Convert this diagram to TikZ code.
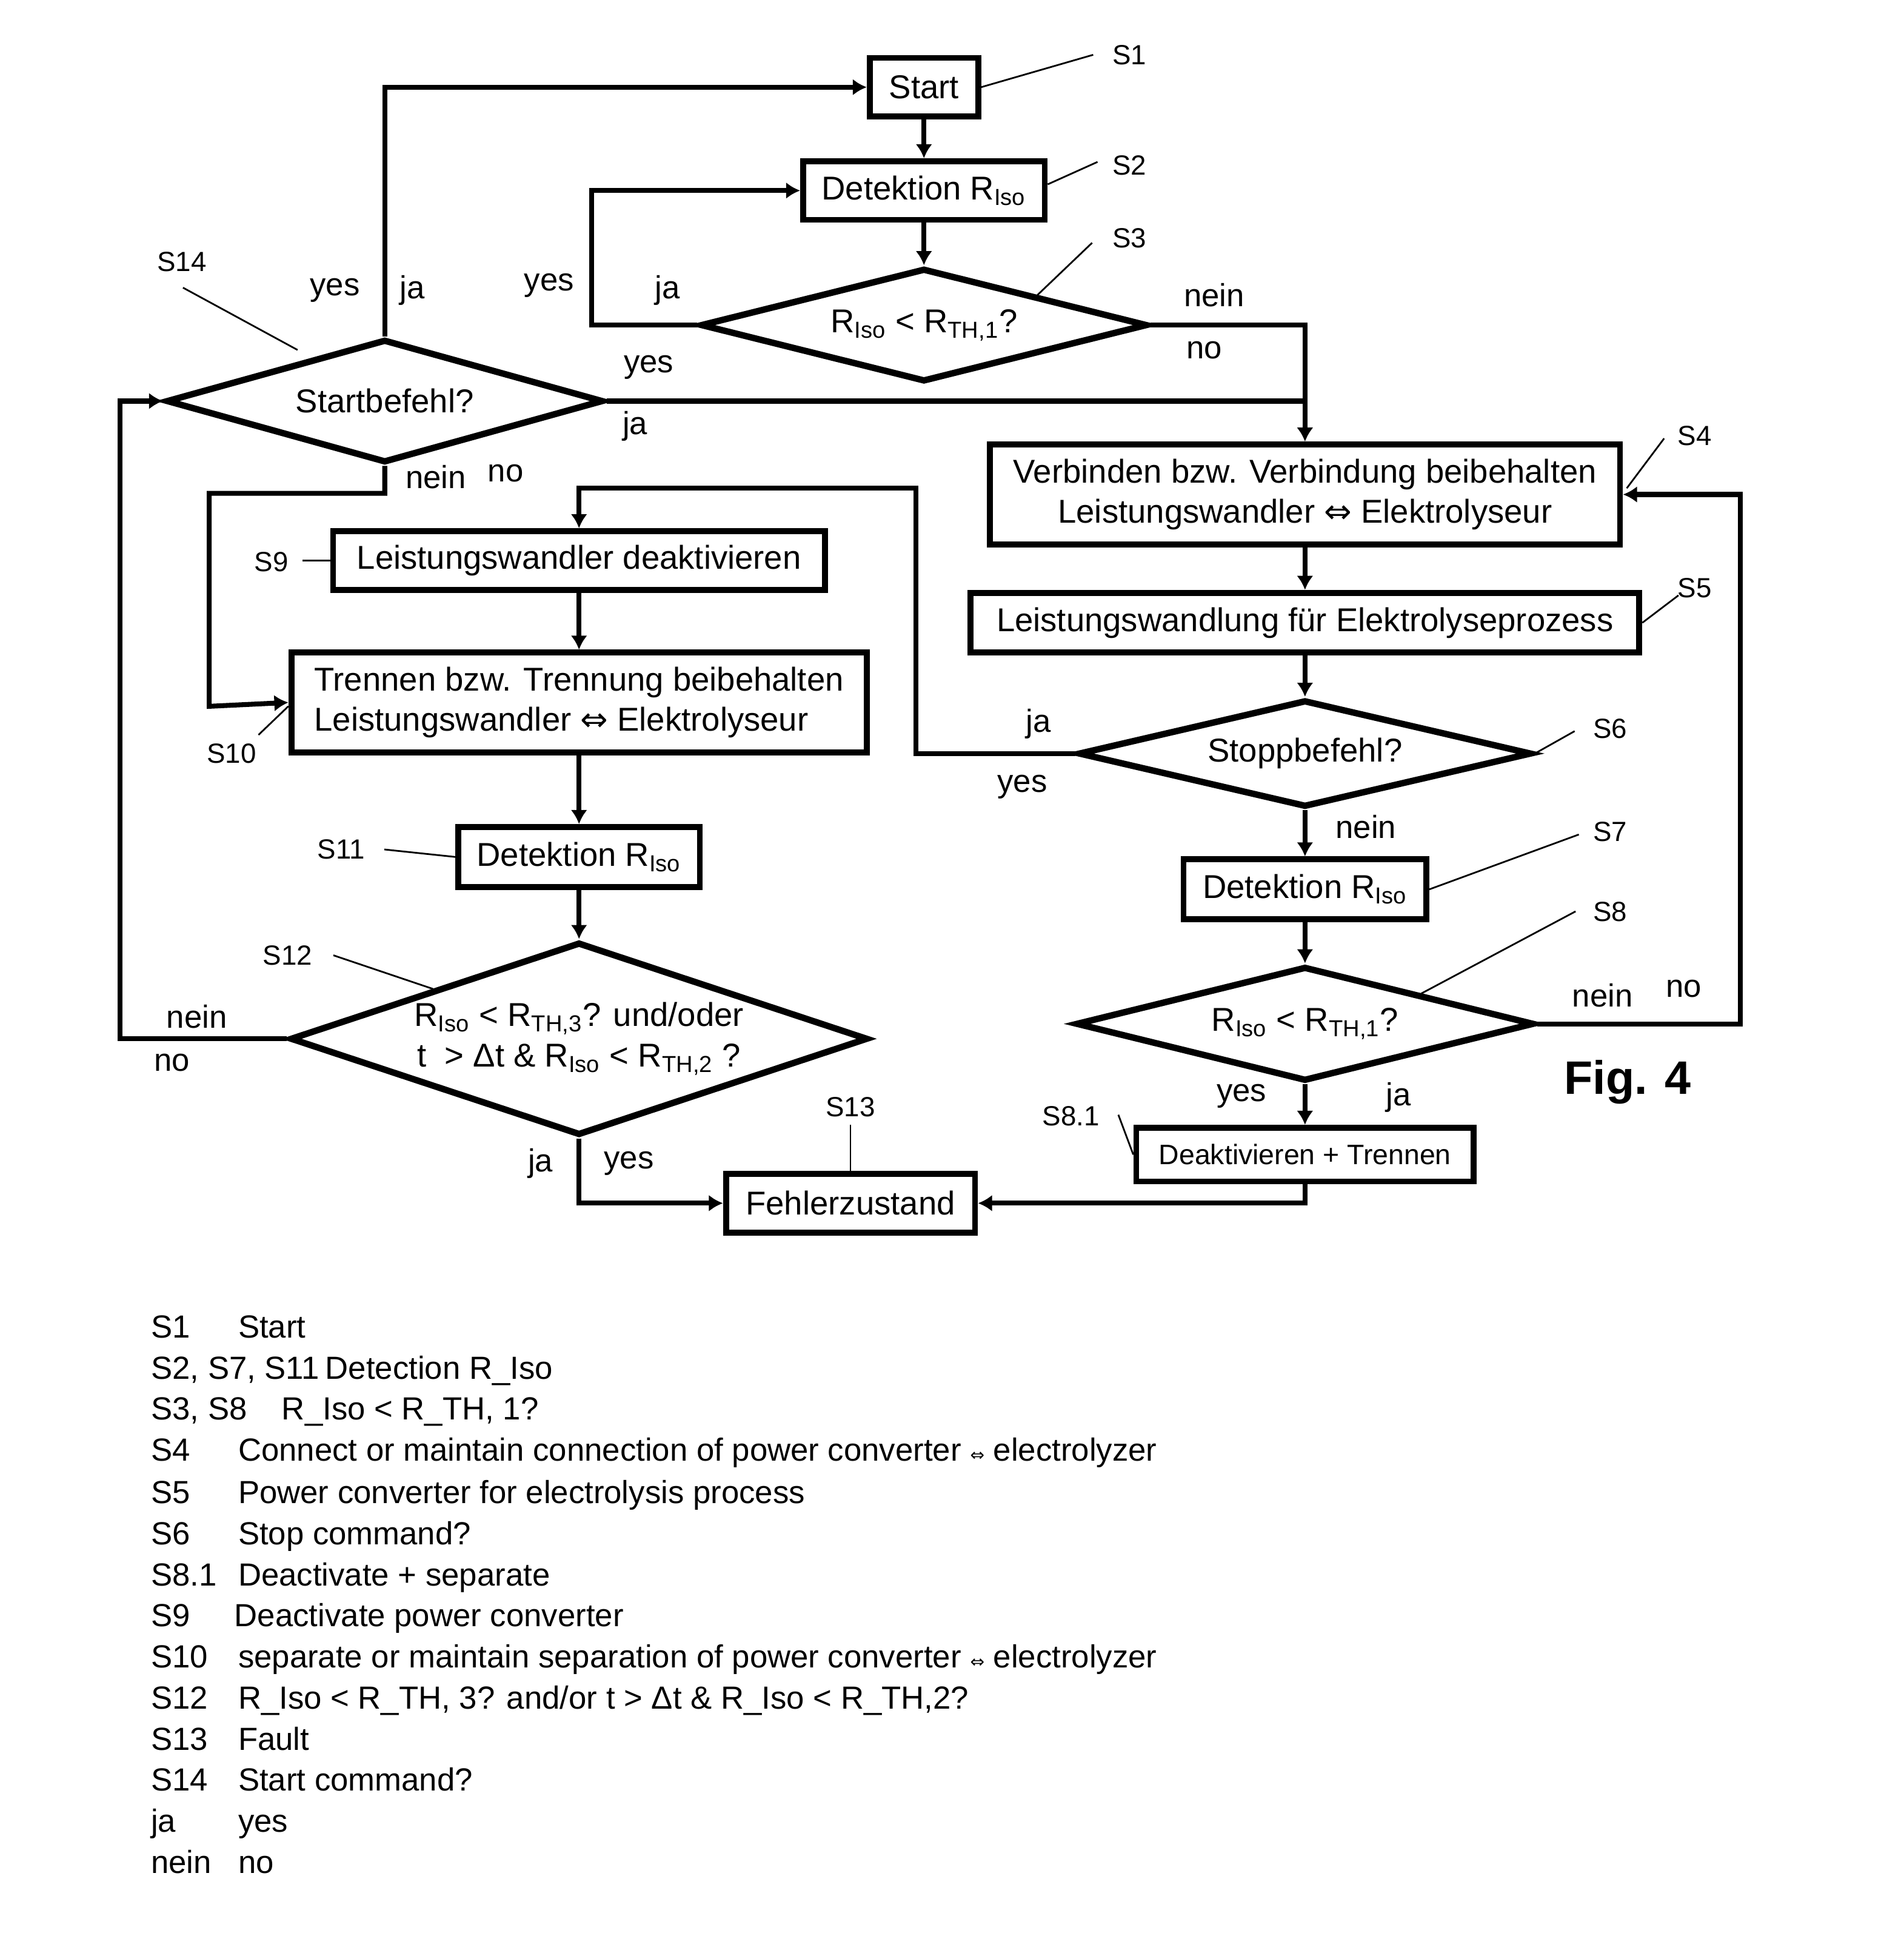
\documentclass[tikz,border=0pt]{standalone}
\usepackage{fontspec}
\setmainfont{Liberation Sans}
\newfontfamily\symfont{DejaVu Sans}
\usetikzlibrary{arrows.meta, shapes.geometric, positioning}
\newlength\px
\setlength\px{0.02054cm}
\newcommand\Riso{R\textsubscript{Iso}}
\newcommand\Rth[1]{R\textsubscript{TH,#1}}
\newcommand\dirarrow{{\symfont ⇔}}
\newcommand\smallarrow{{\symfont\fontsize{8}{8}\selectfont ⇔}}
\tikzset{
  box/.style 2 args={draw, rectangle, line width=2.8pt, inner sep=0pt,
    minimum width=#1\px, minimum height=#2\px,
    font=\fontsize{15.5}{18.6}\selectfont},
  decision/.style 2 args={draw, diamond, aspect=3, line width=3pt, inner sep=0pt,
    minimum width=#1\px, minimum height=#2\px,
    font=\fontsize{15.5}{19}\selectfont},
  link/.style={line width=2.3pt},
  flow/.style={link, -{Latex[length=6.6pt,width=7.8pt]}},
  lead/.style={line width=0.8pt},
  answer/.style={inner sep=0pt, font=\fontsize{15}{18}\selectfont},
  steplabel/.style={inner sep=0pt, font=\fontsize{13}{15}\selectfont},
  legend/.style={anchor=base west, inner sep=0pt, font=\fontsize{15}{18}\selectfont},
}

\begin{document}
\begin{tikzpicture}[x=\px, y=-\px]
    \useasboundingbox (0,0) rectangle (1529,1568);

    % upper part
    \node[box={87}{47}] (start) at (742,70) {Start};
    \node[box={194}{47}] (det1) at (742,153) {Detektion \Riso};
    \node[decision={359}{91}] (s3) at (742,261) {\Riso\ < \Rth{1}?};
    \node[decision={351}{99}] (s14) at (309,322) {Startbefehl?};

    % right column
    \node[box={506}{80}, align=center] (s4) at (1048,397)
        {Verbinden bzw. Verbindung beibehalten\\Leistungswandler \dirarrow\ Elektrolyseur};
    \node[box={537}{48}] (s5) at (1048,500) {Leistungswandlung für Elektrolyseprozess};
    \node[decision={364}{86}] (s6) at (1048,605) {Stoppbefehl?};
    \node[box={195}{48}] (s7) at (1048,714) {Detektion \Riso};
    \node[decision={368}{92}] (s8) at (1048,822) {\Riso\ < \Rth{1}?};
    \node[box={271}{43}, font=\fontsize{13.2}{16}\selectfont] (s81) at (1048,927)
        {Deaktivieren + Trennen};

    % left column
    \node[box={395}{47}] (s9) at (465,450) {Leistungswandler deaktivieren};
    \node[box={462}{80}, align=left] (s10) at (465,564)
        {Trennen bzw. Trennung beibehalten\\Leistungswandler \dirarrow\ Elektrolyseur};
    \node[box={194}{48}] (s11) at (465,688) {Detektion \Riso};
    \node[decision={464}{155}, align=center] (s12) at (465,834)
        {\Riso\ < \Rth{3}? und/oder\\t\ \ > Δt \& \Riso\ < \Rth{2} ?};
    \node[box={200}{47}] (s13) at (683,966) {Fehlerzustand};

    \node[font=\fontsize{22}{26}\selectfont\bfseries] (fig) at (1307,869) {Fig. 4};

    % connectors
    \coordinate (join) at (s14.east -| s4.north);
    \draw[flow] (start) -- (det1);
    \draw[flow] (det1) -- (s3);
    \draw[flow] (s3.west) -- ++(-85,0) |- (det1.west);
    \draw[flow] (s3.east) -| (s4.north);
    \draw[link] (s14.east) -- (join);
    \draw[flow] (s14.north) |- (start.west);
    \draw[flow] (s14.south) -- ++(0,22) -| ++(-141,171) -- (s10.west);
    \draw[flow] (s4) -- (s5);
    \draw[flow] (s5) -- (s6);
    \draw[flow] (s6.west) -| ++(-128,-213) -| (s9.north);
    \draw[flow] (s6) -- (s7);
    \draw[flow] (s7) -- (s8);
    \draw[flow] (s8) -- (s81);
    \draw[flow] (s8.east) -- ++(163,0) |- (s4.east);
    \draw[flow] (s81.south) |- (s13.east);
    \draw[flow] (s9) -- (s10);
    \draw[flow] (s10) -- (s11);
    \draw[flow] (s11) -- (s12);
    \draw[flow] (s12.west) -- ++(-134,0) |- (s14.west);
    \draw[flow] (s12.south) |- (s13.west);

    % answers
    \node[answer] (a3y) at (441,229) {yes};
    \node[answer] (a3j) at (536,233) {ja};
    \node[answer] (a3n) at (975,237) {nein};
    \node[answer] (a3o) at (967,281) {no};
    \node[answer] (a14y) at (269,233) {yes};
    \node[answer] (a14j) at (331,233) {ja};
    \node[answer] (a14ry) at (521,295) {yes};
    \node[answer] (a14rj) at (510,342) {ja};
    \node[answer] (a14n) at (350,383) {nein};
    \node[answer] (a14o) at (406,380) {no};
    \node[answer] (a6j) at (834,581) {ja};
    \node[answer] (a6y) at (821,632) {yes};
    \node[answer] (a6n) at (1097,664) {nein};
    \node[answer] (a8n) at (1287,799) {nein};
    \node[answer] (a8o) at (1352,794) {no};
    \node[answer] (a8y) at (997,880) {yes};
    \node[answer] (a8j) at (1123,881) {ja};
    \node[answer] (a12n) at (158,816) {nein};
    \node[answer] (a12o) at (138,853) {no};
    \node[answer] (a12j) at (434,934) {ja};
    \node[answer] (a12y) at (505,934) {yes};

    % step labels
    \node[steplabel] (l1) at (907,44) {S1};
    \node[steplabel] (l2) at (907,133) {S2};
    \node[steplabel] (l3) at (907,191) {S3};
    \node[steplabel] (l4) at (1361,350) {S4};
    \node[steplabel] (l5) at (1361,472) {S5};
    \node[steplabel] (l6) at (1293,585) {S6};
    \node[steplabel] (l7) at (1293,668) {S7};
    \node[steplabel] (l8) at (1293,732) {S8};
    \node[steplabel] (l81) at (860,896) {S8.1};
    \node[steplabel] (l9) at (218,451) {S9};
    \node[steplabel] (l10) at (186,605) {S10};
    \node[steplabel] (l11) at (274,682) {S11};
    \node[steplabel] (l12) at (231,767) {S12};
    \node[steplabel] (l13) at (683,889) {S13};
    \node[steplabel] (l14) at (146,210) {S14};

    \draw[lead] (start.east) -- ++(90,-26);
    \draw[lead] (det1.east) ++(0,-5) -- ++(40,-18);
    \draw[lead] (s3.north east) -- ++(44,-42);
    \draw[lead] (s4.east) ++(3,-5) -- ++(30,-40);
    \draw[lead] (s5.east) -- ++(29,-22);
    \draw[lead] (s6.east) -- ++(32,-18);
    \draw[lead] (s7.east) -- ++(120,-44);
    \draw[lead] (s8.north east) -- ++(124,-66);
    \draw[lead] (s81.west) -- ++(-12,-32);
    \draw[lead] (s9.west) -- ++(-22,0);
    \draw[lead] (s10.west) ++(0,3) -- ++(-24,23);
    \draw[lead] (s11.west) -- ++(-57,-6);
    \draw[lead] (s12.north west) -- ++(-80,-27);
    \draw[lead] (s13.north) -- ++(0,-37);
    \draw[lead] (s14.north west) ++(19,-15) -- ++(-92,-50);

    % legend
    \node[legend] (k1) at (121,1074) {S1};
    \node[legend] (v1) at (191,1074) {Start};
    \node[legend] (k2) at (121,1107) {S2, S7, S11};
    \node[legend] (v2) at (261,1107) {Detection R\_Iso};
    \node[legend] (k3) at (121,1140) {S3, S8};
    \node[legend] (v3) at (226,1140) {R\_Iso < R\_TH, 1?};
    \node[legend] (k4) at (121,1173) {S4};
    \node[legend] (v4) at (191,1173) {Connect or maintain connection of power converter \smallarrow\ electrolyzer};
    \node[legend] (k5) at (121,1207) {S5};
    \node[legend] (v5) at (191,1207) {Power converter for electrolysis process};
    \node[legend] (k6) at (121,1240) {S6};
    \node[legend] (v6) at (191,1240) {Stop command?};
    \node[legend] (k81) at (121,1273) {S8.1};
    \node[legend] (v81) at (191,1273) {Deactivate + separate};
    \node[legend] (k9) at (121,1306) {S9};
    \node[legend] (v9) at (188,1306) {Deactivate power converter};
    \node[legend] (k10) at (121,1339) {S10};
    \node[legend] (v10) at (191,1339) {separate or maintain separation of power converter \smallarrow\ electrolyzer};
    \node[legend] (k12) at (121,1372) {S12};
    \node[legend] (v12) at (191,1372) {R\_Iso < R\_TH, 3? and/or t > Δt \& R\_Iso < R\_TH,2?};
    \node[legend] (k13) at (121,1405) {S13};
    \node[legend] (v13) at (191,1405) {Fault};
    \node[legend] (k14) at (121,1438) {S14};
    \node[legend] (v14) at (191,1438) {Start command?};
    \node[legend] (kja) at (121,1471) {ja};
    \node[legend] (vja) at (191,1471) {yes};
    \node[legend] (knein) at (121,1504) {nein};
    \node[legend] (vnein) at (191,1504) {no};
\end{tikzpicture}
\end{document}
